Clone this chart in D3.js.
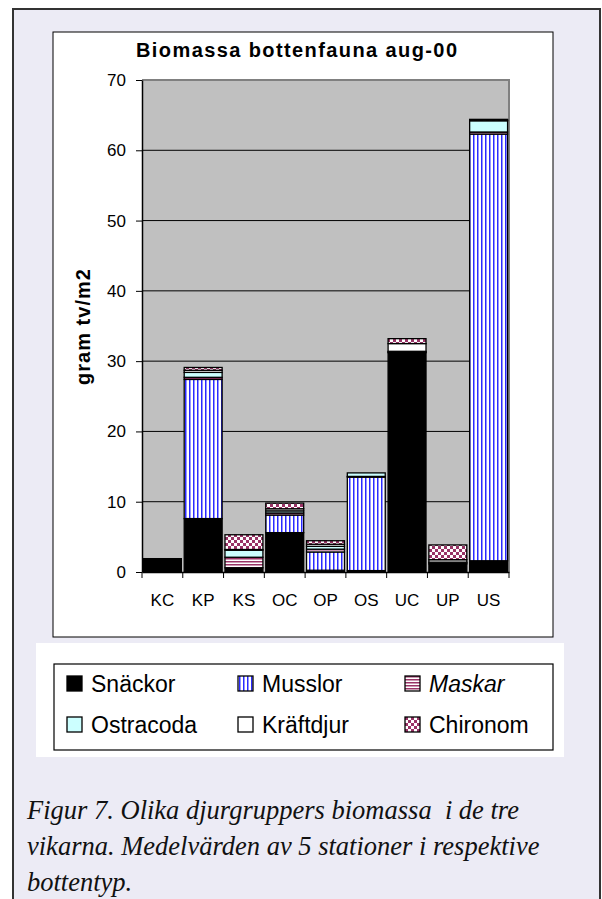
<!DOCTYPE html>
<html><head><meta charset="utf-8">
<script src="https://cdn.jsdelivr.net/npm/d3@7"></script>
<style>body{margin:0;background:#fff;}svg{display:block;} .cap{white-space:pre;}</style>
</head><body>
<script>
const categories = ["KC","KP","KS","OC","OP","OS","UC","UP","US"];
const snackor   = [1.9, 7.6, 0.6, 5.6, 0.25, 0.2, 31.2, 1.15, 1.6];
const musslor   = [0, 19.8, 0, 2.5, 2.6, 13.3, 0, 0, 60.7];
const maskar    = [0, 0.3, 1.5, 0.3, 0.4, 0.1, 0.1, 0.15, 0.3];
const ostracoda = [0, 0.7, 1.0, 0.3, 0.4, 0.5, 0.1, 0.1, 1.6];
const kraftdjur = [0, 0.3, 0.1, 0.3, 0.3, 0, 1.1, 0.35, 0.1];
const chironom  = [0, 0.4, 2.1, 0.8, 0.5, 0, 0.7, 2.1, 0.1];
const seriesNames = ["Snäckor","Musslor","Maskar","Ostracoda","Kräftdjur","Chironom"];
const yTicks = [0,10,20,30,40,50,60,70];
const title = "Biomassa bottenfauna aug-00";
const yTitle = "gram tv/m2";
const captionLines = ["Figur 7. Olika djurgruppers biomassa  i de tre",
  "vikarna. Medelvärden av 5 stationer i respektive","bottentyp."];

const seriesValues = [snackor, musslor, maskar, ostracoda, kraftdjur, chironom];
const rows = categories.map((c,i)=>{const r={cat:c}; seriesNames.forEach((s,k)=>r[s]=seriesValues[k][i]); return r;});

const W=602,H=899;
const svg = d3.select("body").append("svg").attr("width",W).attr("height",H);
const defs = svg.append("defs");
// patterns
const pM = defs.append("pattern").attr("id","pMusslor").attr("patternUnits","userSpaceOnUse").attr("width",4).attr("height",4);
pM.append("rect").attr("width",4).attr("height",4).attr("fill","#fff");
pM.append("rect").attr("x",1).attr("width",1.5).attr("height",4).attr("fill","#2a2aff");
const pK = defs.append("pattern").attr("id","pMaskar").attr("patternUnits","userSpaceOnUse").attr("width",3).attr("height",3);
pK.append("rect").attr("width",3).attr("height",3).attr("fill","#fff");
pK.append("rect").attr("y",0).attr("width",3).attr("height",1.5).attr("fill","#993366");
const pC = defs.append("pattern").attr("id","pChiro").attr("patternUnits","userSpaceOnUse").attr("width",6).attr("height",6);
pC.append("rect").attr("width",6).attr("height",6).attr("fill","#fff");
pC.append("rect").attr("width",3).attr("height",3).attr("fill","#993366");
pC.append("rect").attr("x",3).attr("y",3).attr("width",3).attr("height",3).attr("fill","#993366");
const fills = {"Snäckor":"#000","Musslor":"url(#pMusslor)","Maskar":"url(#pMaskar)","Ostracoda":"#ccffff","Kräftdjur":"#fff","Chironom":"url(#pChiro)"};

// outer frame
svg.append("rect").attr("x",13).attr("y",9).attr("width",587).attr("height",H).attr("fill","#ecebf5").attr("stroke","#333").attr("stroke-width",2);
// chart box
svg.append("rect").attr("x",53).attr("y",32).attr("width",500).attr("height",605).attr("fill","#fff").attr("stroke","#000").attr("stroke-width",1);

const pl=142, pr=509, pt=80, pb=572;
const x = d3.scaleBand().domain(categories).range([pl,pr]).padding(0);
const y = d3.scaleLinear().domain([0,70]).range([pb,pt]);

svg.append("rect").attr("x",pl).attr("y",pt).attr("width",pr-pl).attr("height",pb-pt).attr("fill","#c0c0c0");
// gridlines
svg.append("g").selectAll("line").data(yTicks.filter(v=>v>0&&v<70)).join("line")
  .attr("x1",pl).attr("x2",pr).attr("y1",d=>y(d)).attr("y2",d=>y(d)).attr("stroke","#000").attr("stroke-width",1);
// plot border top/right
svg.append("path").attr("d",`M${pl},${y(70)}H${pr}V${pb}`).attr("fill","none").attr("stroke","#808080").attr("stroke-width",2);

// bars
const stack = d3.stack().keys(seriesNames)(rows);
const inset = x.bandwidth()*0.035;
const gBars = svg.append("g");
stack.forEach(layer=>{
  gBars.append("g").selectAll("rect").data(layer.filter(d=>d[1]-d[0]>0)).join("rect")
    .attr("x",d=>x(d.data.cat)+inset).attr("width",x.bandwidth()-2*inset)
    .attr("y",d=>y(d[1])).attr("height",d=>y(d[0])-y(d[1]))
    .attr("fill",fills[layer.key]).attr("stroke","#000").attr("stroke-width",1.3);
});

// y axis
const yAxis = svg.append("g").attr("transform",`translate(${pl},0)`)
  .call(d3.axisLeft(y).tickValues(yTicks).tickSize(6).tickPadding(10).tickSizeOuter(0));
yAxis.select(".domain").attr("stroke","#000").attr("stroke-width",1.5);
yAxis.selectAll(".tick line").attr("stroke","#000");
yAxis.selectAll("text").attr("font-family","'Liberation Sans',Arial,sans-serif").attr("font-size",17).attr("fill","#000");

// x axis
const xAxis = svg.append("g").attr("transform",`translate(0,${pb})`)
  .call(d3.axisBottom(x).tickSize(0).tickPadding(22).tickSizeOuter(0));
xAxis.select(".domain").attr("stroke","#000").attr("stroke-width",1.5);
xAxis.selectAll("text").attr("font-family","'Liberation Sans',Arial,sans-serif").attr("font-size",17).attr("fill","#000");
const bounds = categories.map(c=>x(c)).concat([x(categories[categories.length-1])+x.bandwidth()]);
svg.append("g").selectAll("line").data(bounds).join("line")
  .attr("x1",d=>d).attr("x2",d=>d).attr("y1",pb).attr("y2",pb+6).attr("stroke","#000").attr("stroke-width",1);

// title
svg.append("text").attr("x",296.5).attr("y",57).attr("text-anchor","middle")
  .attr("font-family","'Liberation Sans',Arial,sans-serif").attr("font-weight","bold").attr("font-size",20)
  .attr("textLength",321).attr("lengthAdjust","spacing").text(title);
// y title
svg.append("text").attr("transform","translate(90,327) rotate(-90)").attr("text-anchor","middle")
  .attr("font-family","'Liberation Sans',Arial,sans-serif").attr("font-weight","bold").attr("font-size",20)
  .attr("textLength",116).attr("lengthAdjust","spacing").text(yTitle);

// legend
svg.append("rect").attr("x",36).attr("y",643).attr("width",528).attr("height",114).attr("fill","#fff");
svg.append("rect").attr("x",54).attr("y",664).attr("width",499).attr("height",86).attr("fill","#fff").attr("stroke","#000").attr("stroke-width",1.2);
const colX=[67,238,405], rowY=[676,717];
const lg = svg.append("g").selectAll("g").data(seriesNames).join("g")
  .attr("transform",(d,i)=>`translate(${colX[i%3]},${rowY[Math.floor(i/3)]})`);
lg.append("rect").attr("width",15).attr("height",15).attr("fill",d=>fills[d]).attr("stroke","#000").attr("stroke-width",1.3);
lg.append("text").attr("x",24).attr("y",15.5).attr("font-family","'Liberation Sans',Arial,sans-serif").attr("font-size",23)
  .attr("font-style",d=>d==="Maskar"?"italic":"normal").text(d=>d);

// caption
svg.append("g").selectAll("text").data(captionLines).join("text").attr("class","cap")
  .attr("x",27).attr("y",(d,i)=>819+i*36)
  .attr("font-family","'Liberation Serif','Times New Roman',serif").attr("font-style","italic").attr("font-size",26.5)
  .attr("fill","#111").text(d=>d);
</script>
</body></html>
